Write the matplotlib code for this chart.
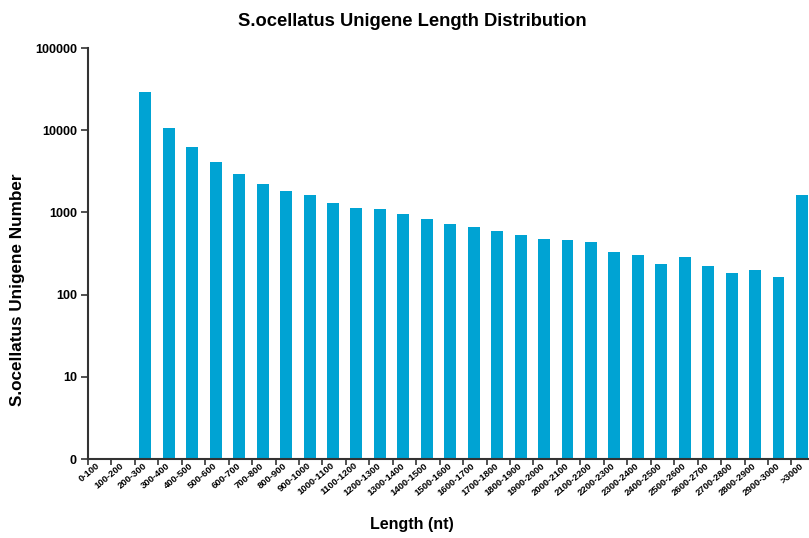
import numpy as np
import matplotlib
matplotlib.use("Agg")
import matplotlib.pyplot as plt
from matplotlib.ticker import FixedLocator, NullLocator

plt.rcParams['font.family'] = ['Liberation Sans', 'DejaVu Sans']

length_bins = ["0-100", "100-200", "200-300", "300-400", "400-500", "500-600",
               "600-700", "700-800", "800-900", "900-1000", "1000-1100",
               "1100-1200", "1200-1300", "1300-1400", "1400-1500", "1500-1600",
               "1600-1700", "1700-1800", "1800-1900", "1900-2000", "2000-2100",
               "2100-2200", "2200-2300", "2300-2400", "2400-2500", "2500-2600",
               "2600-2700", "2700-2800", "2800-2900", "2900-3000", ">3000"]
unigene_counts = [0, 0, 28900, 10700, 6300, 4100, 2960, 2230, 1800, 1615,
                  1300, 1140, 1100, 957, 831, 722, 664, 594, 536, 479,
                  457, 433, 333, 301, 236, 287, 225, 182, 201, 164, 1615]
y_tick_values = [1, 10, 100, 1000, 10000, 100000]
y_tick_labels = ["0", "10", "100", "1000", "10000", "100000"]

W, H = 809, 538
fig = plt.figure(figsize=(W / 100, H / 100), dpi=100)
ax_left, ax_bottom, ax_top = 88, 459, 48
ax = fig.add_axes([ax_left / W, 1 - ax_bottom / H, 1 - ax_left / W,
                   (ax_bottom - ax_top) / H])

x = np.arange(len(length_bins))
counts = np.array(unigene_counts, dtype=float)
has = counts > 0
ax.bar(x[has], counts[has], width=0.51, bottom=0, color="#00a3d3",
       edgecolor="none", zorder=2)

ax.set_yscale("log")
ax.set_ylim(1, 100000)
ax.yaxis.set_major_locator(FixedLocator(y_tick_values))
ax.yaxis.set_minor_locator(NullLocator())
ax.set_yticklabels(y_tick_labels, fontsize=9, fontweight="bold")

ax.set_xlim(-0.383, 30.3)
ax.set_xticks(x - 0.45)
ax.set_xticklabels([])
ax.set_xticks(x, minor=True)
ax.set_xticklabels(length_bins, minor=True, rotation=40, ha="right",
                   va="center", rotation_mode="anchor", fontsize=6.8,
                   fontweight="bold")
ax.tick_params(axis="x", which="minor", length=0, pad=4)
ax.tick_params(axis="x", which="major", length=4, width=1.2, color="#333333")
ax.tick_params(axis="y", length=5, width=1.2, color="#333333", pad=3)

for s in ("top", "right"):
    ax.spines[s].set_visible(False)
for s in ("left", "bottom"):
    ax.spines[s].set_linewidth(1.5)
    ax.spines[s].set_color("#333333")

fig.text(412 / W, 1 - 21 / H, "S.ocellatus Unigene Length Distribution",
         ha="center", va="center", fontsize=13.2, fontweight="bold")
fig.text(412 / W, 1 - 525 / H, "Length (nt)", ha="center", va="center",
         fontsize=11.5, fontweight="bold")
fig.text(18 / W, 1 - 290 / H, "S.ocellatus Unigene Number", ha="center",
         va="center", rotation=90, fontsize=12.3, fontweight="bold")

fig.savefig("out.png", dpi=100)
